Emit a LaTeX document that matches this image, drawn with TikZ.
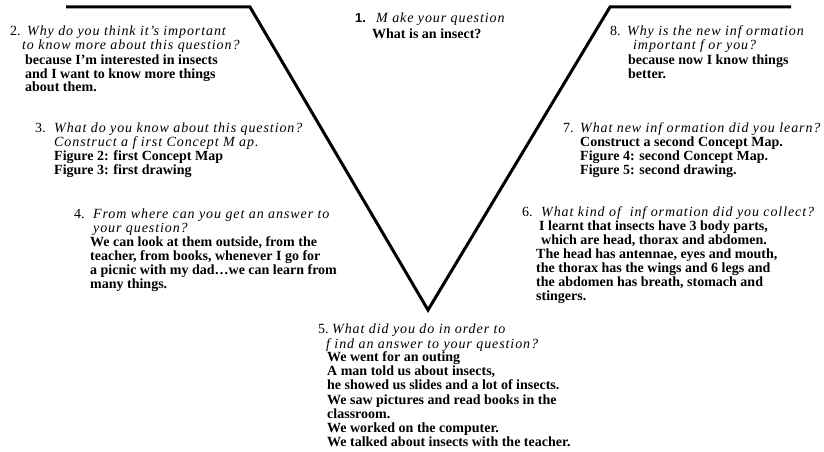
\documentclass[tikz,border=0pt]{standalone}
\usepackage{fontspec}
\setmainfont{Liberation Serif}
\newfontfamily\qf[LetterSpace=6.5]{Liberation Serif}
\newfontfamily\numsf{Liberation Sans}
\begin{document}
\begin{tikzpicture}[x=1pt,y=1pt,
  vline/.style={line width=3pt,line join=miter},
  body/.style={anchor=base west,inner sep=0pt,font=\fontsize{14}{14}\selectfont\bfseries},
  qst/.style={anchor=base west,inner sep=0pt,font=\fontsize{14}{14}\selectfont\qf\itshape},
  num/.style={anchor=base west,inner sep=0pt,font=\fontsize{14}{14}\selectfont},
  numb/.style={anchor=base west,inner sep=0pt,font=\fontsize{13}{14}\selectfont\numsf\bfseries}]
\useasboundingbox (0,0) rectangle (824,-452);
% V shape
\coordinate (tl) at (66,-7);
\coordinate (tlc) at (250,-7);
\coordinate (bot) at (428,-310);
\coordinate (trc) at (610,-7);
\coordinate (tr) at (791,-7);
\draw[vline] (tl) -- (tlc) -- (bot) -- (trc) -- (tr);
% 1
\node[numb] (n1) at (355,-23) {1.};
\node[qst] (q1) at (376,-23) {M ake your question};
\node[body] (a1a) at (372,-39) {What is an insect?};
% 2
\node[num] (n2) at (10,-36) {2.};
\node[qst] (q2a) at (27,-36) {Why do you think it’s important};
\node[qst] (q2b) at (22,-50) {to know more about this question?};
\node[body] (a2a) at (25,-64) {because I’m interested in insects};
\node[body] (a2b) at (25,-78) {and I want to know more things};
\node[body] (a2c) at (25,-92) {about them.};
% 8
\node[num] (n8) at (610,-36) {8.};
\node[qst] (q8a) at (627,-36) {Why is the new inf ormation};
\node[qst] (q8b) at (633,-50) {important f or you?};
\node[body] (a8a) at (628,-64) {because now I know things};
\node[body] (a8b) at (628,-78) {better.};
% 3
\node[num] (n3) at (35,-132) {3.};
\node[qst] (q3a) at (54,-132) {What do you know about this question?};
\node[qst] (q3b) at (54,-146) {Construct a f irst Concept M ap.};
\node[body] (a3a) at (54,-160) {Figure 2: first Concept Map};
\node[body] (a3b) at (54,-174) {Figure 3: first drawing};
% 7
\node[num] (n7) at (563,-132) {7.};
\node[qst] (q7a) at (580,-132) {What new inf ormation did you learn?};
\node[body] (a7a) at (580,-146) {Construct a second Concept Map.};
\node[body] (a7b) at (580,-160) {Figure 4: second Concept Map.};
\node[body] (a7c) at (580,-174) {Figure 5: second drawing.};
% 4
\node[num] (n4) at (74,-218) {4.};
\node[qst] (q4a) at (93,-218) {From where can you get an answer to};
\node[qst] (q4b) at (93,-232) {your question?};
\node[body] (a4a) at (90,-246) {We can look at them outside, from the};
\node[body] (a4b) at (90,-260) {teacher, from books, whenever I go for};
\node[body] (a4c) at (90,-274) {a picnic with my dad…we can learn from};
\node[body] (a4d) at (90,-288) {many things.};
% 6
\node[num] (n6) at (522,-216) {6.};
\node[qst] (q6a) at (541,-216) {What kind of\ \ inf ormation did you collect?};
\node[body] (a6a) at (539,-230) {I learnt that insects have 3 body parts,};
\node[body] (a6b) at (541,-244) {which are head, thorax and abdomen.};
\node[body] (a6c) at (536,-258) {The head has antennae, eyes and mouth,};
\node[body] (a6d) at (536,-272) {the thorax has the wings and 6 legs and};
\node[body] (a6e) at (536,-286) {the abdomen has breath, stomach and};
\node[body] (a6f) at (536,-300) {stingers.};
% 5
\node[num] (n5) at (318,-333) {5.};
\node[qst] (q5a) at (332,-333) {What did you do in order to};
\node[qst] (q5b) at (326,-348) {f ind an answer to your question?};
\node[body] (a5a) at (327,-361) {We went for an outing};
\node[body] (a5b) at (327,-375) {A man told us about insects,};
\node[body] (a5c) at (327,-389) {he showed us slides and a lot of insects.};
\node[body] (a5d) at (327,-404) {We saw pictures and read books in the};
\node[body] (a5e) at (327,-418) {classroom.};
\node[body] (a5f) at (327,-432) {We worked on the computer.};
\node[body] (a5g) at (327,-446) {We talked about insects with the teacher.};
\end{tikzpicture}
\end{document}
